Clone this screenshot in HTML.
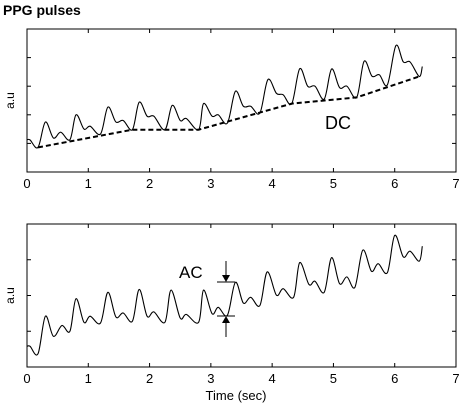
<!DOCTYPE html>
<html><head><meta charset="utf-8"><style>
html,body{margin:0;padding:0;background:#fff;width:472px;height:405px;overflow:hidden}
svg text{font-family:"Liberation Sans",Arial,sans-serif;fill:#000}
</style></head><body>
<svg id="chart" width="472" height="405" viewBox="0 0 472 405" xmlns="http://www.w3.org/2000/svg">
<text x="3" y="15" font-size="14" font-weight="bold">PPG pulses</text>
</svg>
<script>
const xTicks=[0,1,2,3,4,5,6,7];
const topTime=[0,0.05,0.18,0.3,0.43,0.55,0.7,0.8,0.93,1.03,1.2,1.32,1.45,1.57,1.72,1.83,1.96,2.07,2.25,2.37,2.5,2.6,2.8,2.88,3.02,3.12,3.27,3.4,3.53,3.65,3.8,3.93,4.07,4.18,4.32,4.45,4.58,4.7,4.85,4.97,5.1,5.22,5.38,5.5,5.63,5.75,5.88,6.02,6.14,6.25,6.4,6.45];
const topValue=[1.13,1.12,0.86,1.75,1.19,1.39,1.13,2.0,1.5,1.6,1.33,2.27,1.75,1.8,1.48,2.44,1.95,1.95,1.48,2.33,1.8,1.87,1.48,2.39,1.95,2.0,1.71,2.82,2.3,2.3,2.06,3.23,2.75,2.7,2.39,3.61,3.0,3.0,2.55,3.6,2.95,3.0,2.61,3.87,3.35,3.4,3.05,4.42,3.85,3.85,3.34,3.69];
const dcTime=[0.18,1.72,2.8,4.32,5.38,6.4];
const dcValue=[0.86,1.48,1.48,2.39,2.61,3.34];
const botTime=[0,0.05,0.18,0.3,0.43,0.57,0.7,0.8,0.93,1.03,1.2,1.32,1.45,1.57,1.72,1.83,1.96,2.07,2.25,2.35,2.5,2.6,2.8,2.88,3.02,3.12,3.27,3.4,3.53,3.65,3.8,3.92,4.07,4.18,4.35,4.45,4.6,4.7,4.85,4.97,5.1,5.22,5.35,5.48,5.62,5.73,5.88,6.0,6.14,6.25,6.4,6.45];
const botValue=[0.58,0.58,0.37,1.42,0.86,1.16,1.0,1.91,1.25,1.42,1.23,2.09,1.40,1.51,1.28,2.17,1.42,1.54,1.25,2.15,1.37,1.47,1.25,2.15,1.49,1.67,1.45,2.37,1.79,1.95,1.72,2.66,2.01,2.19,1.95,2.92,2.31,2.4,2.09,3.06,2.33,2.52,2.23,3.27,2.68,2.89,2.64,3.68,3.08,3.24,2.96,3.38];

const svg=document.getElementById('chart');
const NS='http://www.w3.org/2000/svg';
function mk(tag,attrs,parent){const e=document.createElementNS(NS,tag);for(const k in attrs)e.setAttribute(k,attrs[k]);(parent||svg).appendChild(e);return e;}
const X0=27,X1=456;
const xs=t=>X0+(t-0)/(7-0)*(X1-X0);
function smooth(pts){let d='M'+pts[0][0].toFixed(1)+','+pts[0][1].toFixed(1);
 for(let i=0;i<pts.length-1;i++){const p0=pts[Math.max(0,i-1)],p1=pts[i],p2=pts[i+1],p3=pts[Math.min(pts.length-1,i+2)];
 const c1=[p1[0]+(p2[0]-p0[0])/6,p1[1]+(p2[1]-p0[1])/6],c2=[p2[0]-(p3[0]-p1[0])/6,p2[1]-(p3[1]-p1[1])/6];
 d+=' C'+c1[0].toFixed(1)+','+c1[1].toFixed(1)+' '+c2[0].toFixed(1)+','+c2[1].toFixed(1)+' '+p2[0].toFixed(1)+','+p2[1].toFixed(1);}
 return d;}
function panel(name,yTop,yBot,yMax,yTicks,times,vals){
 const g=mk('g',{});
 
 
 const ys=v=>yBot-v/yMax*(yBot-yTop);
 const box=mk('rect',{x:X0,y:yTop,width:X1-X0,height:yBot-yTop,fill:'none',stroke:'#000','stroke-width':1},g);
 
 
 xTicks.forEach(t=>{const x=xs(t);
  mk('line',{x1:x,x2:x,y1:yBot,y2:yBot-4,stroke:'#000'},g);
  mk('line',{x1:x,x2:x,y1:yTop,y2:yTop+4,stroke:'#000'},g);
  const tx=mk('text',{x:x,y:yBot+16,'font-size':13,'text-anchor':'middle'},g);tx.textContent=t;
  
  });
 yTicks.forEach(v=>{const y=ys(v);
  mk('line',{x1:X0,x2:X0+4,y1:y,y2:y,stroke:'#000'},g);
  mk('line',{x1:X1,x2:X1-4,y1:y,y2:y,stroke:'#000'},g);});
 const yl=mk('text',{x:0,y:0,'font-size':12,'text-anchor':'middle',transform:`translate(14,${(yTop+yBot)/2}) rotate(-90)`},g);yl.textContent='a.u';
 
 
 const pts=times.map((t,i)=>[xs(t),ys(vals[i])]);
 const p=mk('path',{d:smooth(pts),fill:'none',stroke:'#000','stroke-width':1.1},g);
 
 
 return ys;}
const ysTop=panel('top-panel',29,172,5,[1,2,3,4],topTime,topValue);
const dc=mk('path',{d:'M'+dcTime.map((t,i)=>xs(t).toFixed(1)+','+ysTop(dcValue[i]).toFixed(1)).join(' L'),fill:'none',stroke:'#000','stroke-width':2,'stroke-dasharray':'5,3'});


const dct=mk('text',{x:325,y:129,'font-size':18});dct.textContent='DC';


panel('bottom-panel',224,367,4,[1,2,3],botTime,botValue);
const ac=mk('g',{});


mk('line',{x1:217,x2:235,y1:282,y2:282,stroke:'#000'},ac);
mk('line',{x1:217,x2:235,y1:316,y2:316,stroke:'#000'},ac);
mk('line',{x1:226,x2:226,y1:261,y2:276,stroke:'#000'},ac);
mk('polygon',{points:'222,275 230,275 226,282',fill:'#000'},ac);
mk('line',{x1:226,x2:226,y1:322,y2:337,stroke:'#000'},ac);
mk('polygon',{points:'222,323 230,323 226,316',fill:'#000'},ac);
const act=mk('text',{x:179,y:278,'font-size':17},ac);act.textContent='AC';
const xt=mk('text',{x:236,y:400,'font-size':13,'text-anchor':'middle'});xt.textContent='Time (sec)';


</script>
</body></html>
